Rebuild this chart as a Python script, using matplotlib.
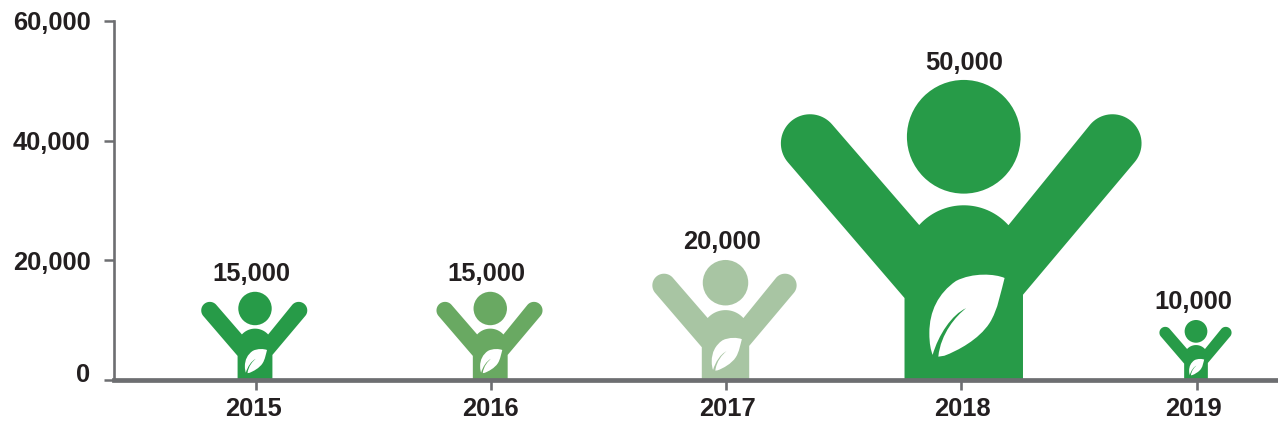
import numpy as np
import matplotlib
matplotlib.use("Agg")
import matplotlib.pyplot as plt
from matplotlib.path import Path
from matplotlib.patches import PathPatch, Circle, Polygon
from matplotlib.transforms import Affine2D, ScaledTranslation

plt.rcParams['font.family'] = ['Liberation Sans', 'DejaVu Sans']
plt.rcParams['font.weight'] = 'bold'
plt.rcParams['font.size'] = 18.4

years = ["2015", "2016", "2017", "2018", "2019"]
values = [15000, 15000, 20000, 50000, 10000]
yticks = [0, 20000, 40000, 60000]
colors = ["#279b48", "#69a962", "#a8c5a3", "#279b48", "#279b48"]

TEXT = "#231f20"
AXIS = "#6d6e71"
W, H = 1278, 426

# pixel box of the axes
left, right, top, bottom = 113.5, 1278, 21, 380
x_step = 235.25
first_x = 255.5

# small hand placement offsets in pixels, the original isn't quite centered
icon_dx = [-0.5, -0.5, -0.5, 2.5, -0.5]
icon_scale = [0.98, 0.98, 1, 1, 1]  # the 15,000 icons are drawn a touch short
label_dx = [-4.5, -4, -4.5, 2.5, -3.5]
year_dx = [-1.5, -0.5, 1, 1.5, -3.5]

fig = plt.figure(figsize=(W / 100, H / 100), dpi=100)
ax = fig.add_axes([left / W, 1 - bottom / H, (right - left) / W, (bottom - top) / H])
ax.set_ylim(0, 60000)
ax.set_xlim(-(first_x - left) / x_step, (right - first_x) / x_step)

# an icon is drawn in units of its own height, this keeps it from stretching
ratio = ((bottom - top) / 60000) / x_step


# points on a circle, angles in degrees
def arc(cx, cy, r, a0, a1):
    t = np.radians(np.linspace(a0, a1, 40))
    return np.column_stack([cx + r * np.cos(t), cy + r * np.sin(t)])


# outline of arms and torso in one piece
def body_outline():
    return np.vstack([
        [(-0.198, 0), (-0.198, 0.274)],
        arc(-0.514, 0.791, 0.0973, 220.6, 40.6),
        arc(0, 0.383, 0.201, 137.8, 42),
        arc(0.497, 0.791, 0.0973, 139.4, -40.6),
        [(0.198, 0.285), (0.198, 0)],
    ])


def draw_person(i, value, color):
    dx = icon_dx[i] / x_step
    height = value * icon_scale[i]
    tr = Affine2D().scale(height * ratio, height).translate(i + dx, 0) + ax.transData

    ax.add_patch(Circle((0, 0.813), 0.19, fc=color, ec='none', transform=tr))
    ax.add_patch(Polygon(body_outline(), closed=True, fc=color, ec='none', transform=tr))

    # white leaf with the slit for the vein
    leaf = Path([(0.1365, 0.341),
                 (0.105, 0.355), (0.03, 0.36), (-0.026, 0.331),
                 (-0.085, 0.29), (-0.115, 0.23), (-0.115, 0.157),
                 (-0.115, 0.12), (-0.11, 0.10), (-0.104, 0.084),
                 (-0.085, 0.15), (-0.04, 0.219), (0.008, 0.240),
                 (-0.025, 0.215), (-0.077, 0.156), (-0.085, 0.078),
                 (-0.065, 0.081),
                 (-0.02, 0.098), (0.05, 0.135), (0.086, 0.190),
                 (0.115, 0.235), (0.125, 0.30), (0.1365, 0.341)],
                [Path.MOVETO] + [Path.CURVE4] * 15 + [Path.LINETO] + [Path.CURVE4] * 6)
    ax.add_patch(PathPatch(leaf, fc='white', ec='none', transform=tr))

    ax.annotate(f"{value:,}", (i, height), xytext=(label_dx[i] * 0.72, 8), textcoords='offset points',
                ha='center', va='baseline', color=TEXT, annotation_clip=False)


for i in range(len(years)):
    draw_person(i, values[i], colors[i])

for name in ('top', 'right'):
    ax.spines[name].set_visible(False)
ax.spines['left'].set_linewidth(1.9)
ax.spines['left'].set_color(AXIS)
ax.spines['bottom'].set_linewidth(3.4)
ax.spines['bottom'].set_color(AXIS)

ax.set_xticks(range(len(years)))
ax.set_xticklabels(years)
ax.set_yticks(yticks)
ax.set_yticklabels([f"{v:,}" for v in yticks])
ax.tick_params(axis='y', length=7.5, width=1.8, color=AXIS, labelcolor=TEXT, pad=9)
ax.tick_params(axis='x', length=7.2, width=1.9, color=AXIS, labelcolor=TEXT, pad=5.4)

# nudge the labels that sit off their ticks in the original
for i, lab in enumerate(ax.get_xticklabels()):
    lab.set_transform(lab.get_transform() + ScaledTranslation(year_dx[i] / 100, 0, fig.dpi_scale_trans))
zero = ax.get_yticklabels()[0]
zero.set_transform(zero.get_transform() + ScaledTranslation(0, 8 / 100, fig.dpi_scale_trans))

fig.savefig("out.png", dpi=100, facecolor='white')
